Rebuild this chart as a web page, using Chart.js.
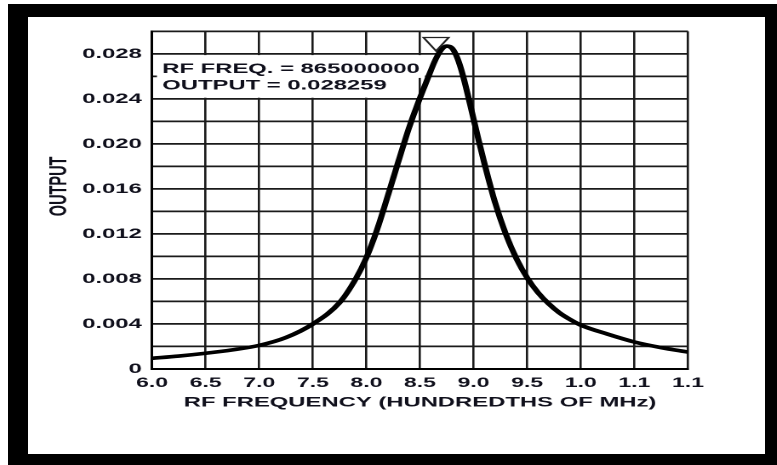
<!DOCTYPE html>
<html>
<head>
<meta charset="utf-8">
<script src="https://cdn.jsdelivr.net/npm/chart.js@4"></script>
<style>
  html, body { margin: 0; padding: 0; background: #fff; }
  body { width: 777px; height: 465px; overflow: hidden; position: relative; }
  /* thick black frame round the white plot card */
  #frame { position: absolute; left: 8px; top: 4px; width: 769px; height: 461px; box-sizing: border-box;
           border: solid #000; border-width: 13px 12px 11px 20px; background: #fff; }
  /* the original picture is stretched sideways, so the chart is too */
  #wrap { position: absolute; left: 28px; top: 17px; width: 433px; height: 437px;
          transform: scaleX(1.70208); transform-origin: 0 0; }
</style>
</head>
<body>
<div id="frame"></div>
<div id="wrap"><canvas id="chart" width="433" height="437" style="width:433px;height:437px"></canvas></div>
<script>
// response curve (x in hundreds of MHz)
const freq = [6.0, 6.25, 6.5, 6.75, 7.0, 7.25, 7.5, 7.75, 7.9, 8.0,
              8.1, 8.2, 8.3, 8.4, 8.5, 8.6, 8.65, 8.7, 8.75, 8.8,
              8.85, 8.9, 8.95, 9.0, 9.05, 9.1, 9.2, 9.3, 9.4, 9.5,
              9.6, 9.7, 9.8, 9.9, 10.0, 10.25, 10.5, 10.75, 11.0];
const output = [0.00095, 0.00115, 0.0014, 0.0017, 0.0021, 0.0028, 0.0040, 0.0059, 0.0080, 0.0099,
                0.0124, 0.0154, 0.0185, 0.0215, 0.0241, 0.0265, 0.0276, 0.0284, 0.0287, 0.0285,
                0.0276, 0.0261, 0.0242, 0.0222, 0.0202, 0.0183, 0.0148, 0.0120, 0.0098, 0.0081,
                0.0068, 0.0058, 0.0050, 0.0044, 0.0039, 0.0031, 0.0024, 0.0019, 0.0015];

// cursor marker
const markerFreq = [8.65];
const markerOutput = [0.028259];

const xTickLabels = ['6.0', '6.5', '7.0', '7.5', '8.0', '8.5', '9.0', '9.5', '1.0', '1.1', '1.1'];
const yTickLabels = ['0', '0.004', '0.008', '0.012', '0.016', '0.020', '0.024', '0.028'];
const xTitle = 'RF FREQUENCY (HUNDREDTHS OF MHz)';
const yTitle = 'OUTPUT';
const readoutLines = ['RF FREQ. = ' + Math.round(markerFreq[0] * 1e8), 'OUTPUT = ' + markerOutput[0]];

const FAMILY = '"Liberation Sans", Arial, Helvetica, sans-serif';
const INK = '#10101c';
const GRID = '#1a1a1a';

Chart.defaults.font.family = FAMILY;
Chart.defaults.color = INK;

// readout box, cursor triangle and the y title
const extras = {
  id: 'extras',
  beforeDatasetsDraw(chart) {
    const { ctx, chartArea: a, scales: { y } } = chart;
    ctx.save();
    ctx.font = 'bold 14px ' + FAMILY;
    const x0 = a.left + 6;
    const w1 = ctx.measureText(readoutLines[0]).width;
    const w2 = ctx.measureText(readoutLines[1]).width;
    const yA = y.getPixelForValue(0.028), yB = y.getPixelForValue(0.026), yC = y.getPixelForValue(0.024);
    ctx.fillStyle = '#fff';
    ctx.fillRect(a.left + 3, yA + 1.2, x0 + w1 + 3 - (a.left + 3), yB + 1.5 - (yA + 1.2));
    ctx.fillRect(a.left + 3, yB - 1, x0 + w2 + 3 - (a.left + 3), yC - 1.2 - (yB - 1));
    ctx.fillStyle = INK;
    ctx.textBaseline = 'alphabetic';
    ctx.fillText(readoutLines[0], x0, a.top + 41.7);
    ctx.fillText(readoutLines[1], x0, a.top + 58.3);
    ctx.restore();
  },
  afterDraw(chart) {
    const { ctx, chartArea: a, scales: { x, y } } = chart;
    ctx.save();
    // inverted triangle, tip on the cursor point
    const px = x.getPixelForValue(markerFreq[0]);
    const py = y.getPixelForValue(markerOutput[0]);
    ctx.beginPath();
    ctx.moveTo(px, py);
    ctx.lineTo(px - 7.4, py - 13.5);
    ctx.lineTo(px + 7.4, py - 13.5);
    ctx.closePath();
    ctx.strokeStyle = '#222';
    ctx.lineWidth = 1.3;
    ctx.stroke();
    // y axis title
    ctx.translate(a.left - 54.6, a.top + 155);
    ctx.rotate(-Math.PI / 2);
    ctx.font = 'bold 14.5px ' + FAMILY;
    ctx.fillStyle = INK;
    ctx.textAlign = 'center';
    ctx.textBaseline = 'middle';
    ctx.fillText(yTitle, 0, 0);
    ctx.restore();
  }
};

const chart = new Chart(document.getElementById('chart'), {
  type: 'line',
  data: {
    datasets: [{
      data: freq.map((f, i) => ({ x: f, y: output[i] })),
      borderColor: '#000',
      borderWidth: 3.6,
      pointRadius: 0,
      cubicInterpolationMode: 'monotone',
      fill: false
    }]
  },
  options: {
    responsive: false,
    devicePixelRatio: 2,
    animation: false,
    layout: { padding: { left: 0, right: 45.24, top: 13, bottom: 43 } },
    plugins: { legend: { display: false }, tooltip: { enabled: false } },
    scales: {
      x: {
        type: 'linear',
        min: 6,
        max: 11,
        afterFit: (s) => { s.height = 42; },
        ticks: {
          stepSize: 0.5,
          autoSkip: false,
          maxRotation: 0,
          padding: 6,
          font: { size: 13.5, weight: 'bold' },
          callback: (v) => xTickLabels[Math.round((v - 6) / 0.5)]
        },
        grid: { color: GRID, lineWidth: 1.3, drawTicks: false },
        border: { color: '#000', width: 2 },
        title: { display: true, text: xTitle, font: { size: 14, weight: 'bold' }, padding: 0 }
      },
      y: {
        min: 0,
        max: 0.03,
        afterFit: (s) => { s.width = 72.85; },
        ticks: {
          stepSize: 0.002,
          maxTicksLimit: 100,
          padding: 6,
          font: { size: 14, weight: 'bold' },
          callback: (v) => {
            const k = Math.round(v / 0.002);
            return k % 2 ? '' : yTickLabels[k / 2];
          }
        },
        grid: { color: GRID, lineWidth: 1.8, drawTicks: false },
        border: { color: '#000', width: 1.5 }
      }
    }
  },
  plugins: [extras]
});
</script>
</body>
</html>
